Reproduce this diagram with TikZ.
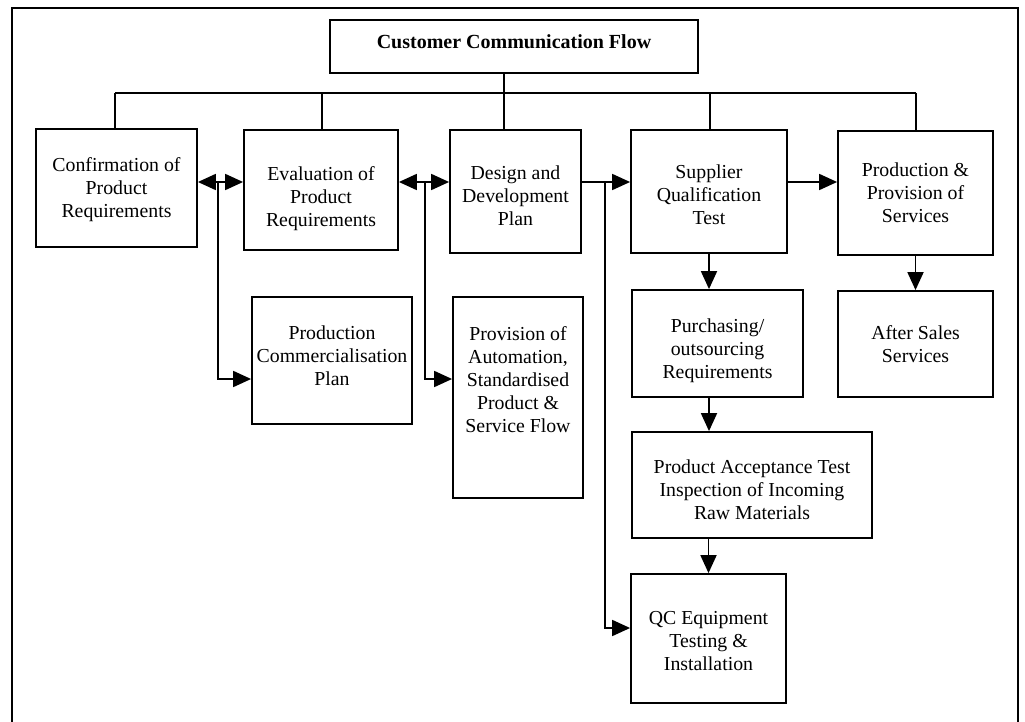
\documentclass[tikz,border=0pt]{standalone}
\usepackage{fontspec}
\setmainfont{Liberation Serif}
\usetikzlibrary{arrows.meta}
% vertical padding inside a box: extra room above the first line / below the last one
\newcommand\padtop[1]{\rule{0pt}{#1}}
\newcommand\padbot[1]{\rule[-#1]{0pt}{#1}}
\begin{document}
\begin{tikzpicture}[x=1pt,y=-1pt,
  box/.style={draw, line width=1.8pt, align=center, inner sep=0pt,
    font=\fontsize{19.8}{23}\selectfont},
  link/.style={line width=1.8pt},
  arr/.style={link, -{Triangle[length=18pt,width=16pt]}},
  darr/.style={link, {Triangle[length=18pt,width=16pt]}-{Triangle[length=18pt,width=16pt]}}
]
\useasboundingbox (0,0) rectangle (1025,722);

% outer frame, open at the bottom
\draw[line width=1.8pt] (12,722) -- (12,8) -- (1018,8) -- (1018,722);

% title
\node[box, minimum width=368pt, minimum height=53pt, text depth=10pt,
      font=\fontsize{20}{23}\selectfont\bfseries] (top) at (514,46.5)
  {Customer Communication Flow};

% first row
\node[box, minimum width=161pt, minimum height=118pt] (conf) at (116.5,188)
  {\padtop{17pt}Confirmation of\\Product\\Requirements};
\node[box, minimum width=154pt, minimum height=120pt] (eval) at (321,190)
  {\padtop{32pt}Evaluation of\\Product\\Requirements};
\node[box, minimum width=131pt, minimum height=123pt] (design) at (515.5,191.5)
  {\padtop{22pt}Design and\\Development\\Plan};
\node[box, minimum width=156pt, minimum height=123pt] (supp) at (709,191.5)
  {\padtop{20pt}Supplier\\Qualification\\Test};
\node[box, minimum width=155pt, minimum height=124pt] (prod) at (915.5,193)
  {Production \&\\Provision of\\Services};

% lower boxes
\node[box, minimum width=160pt, minimum height=127pt] (pcp) at (332,360.5)
  {Production\\Commercialisation\\Plan\padbot{10pt}};
\node[box, minimum width=130pt, minimum height=201pt] (prov) at (518,397.5)
  {Provision of\\Automation,\\Standardised\\Product \&\\Service Flow\\[13pt]\mbox{}};
\node[box, minimum width=171pt, minimum height=107pt] (purch) at (717.5,343.5)
  {\padtop{28pt}Purchasing/\\outsourcing\\Requirements};
\node[box, minimum width=155pt, minimum height=106pt] (after) at (915.5,344)
  {After Sales\\Services};
\node[box, minimum width=240pt, minimum height=106pt] (accept) at (752,485)
  {\padtop{24pt}Product Acceptance Test\\Inspection of Incoming\\Raw Materials};
\node[box, minimum width=155pt, minimum height=129pt] (qc) at (708.5,638.5)
  {\padtop{18pt}QC Equipment\\Testing \&\\Installation};

% bus from the title to the first row
\coordinate (j1) at (115,93);
\coordinate (j2) at (322,93);
\coordinate (j3) at (504,93);
\coordinate (j4) at (710,93);
\coordinate (j5) at (916,93);
\draw[link] (j1) -- (j5);
\draw[link] (top.south -| j3) -- (j3);
\draw[link] (j1) -- (conf.north -| j1);
\draw[link] (j2) -- (eval.north -| j2);
\draw[link] (j3) -- (design.north -| j3);
\draw[link] (j4) -- (supp.north -| j4);
\draw[link] (j5) -- (prod.north -| j5);

% links between the first-row boxes and their branches
\coordinate (h1) at (218,182);
\coordinate (v1) at (218,379);
\draw[darr] (conf.east |- h1) -- (eval.west |- h1);
\draw[arr] (h1) -- (v1) -- (pcp.west |- v1);

\coordinate (h2) at (425,182);
\coordinate (v2) at (425,379);
\draw[darr] (eval.east |- h2) -- (design.west |- h2);
\draw[arr] (h2) -- (v2) -- (prov.west |- v2);

\coordinate (h3) at (605,182);
\coordinate (v3) at (605,628);
\draw[arr] (design.east |- h3) -- (supp.west |- h3);
\draw[arr] (h3) -- (v3) -- (qc.west |- v3);

\draw[arr] (supp.east |- h3) -- (prod.west |- h3);

% vertical chain under the supplier test
\draw[arr] (supp.south) -- (supp.south |- purch.north);
\draw[arr] (supp.south |- purch.south) -- (supp.south |- accept.north);
\draw[arr] (qc.north |- accept.south) -- (qc.north);
\draw[arr] (prod.south) -- (after.north);
\end{tikzpicture}
\end{document}
